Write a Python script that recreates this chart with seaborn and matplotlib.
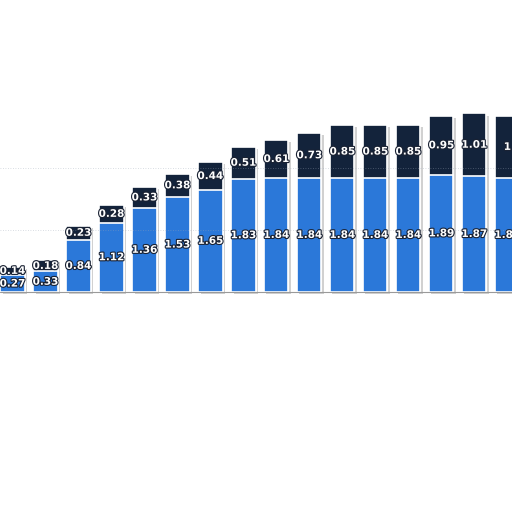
import matplotlib
matplotlib.use("Agg")
import matplotlib.pyplot as plt
import matplotlib.patheffects as pe
import seaborn as sns
import pandas as pd
import numpy as np

categories = [str(i) for i in range(16)]
blue_vals = [0.27, 0.33, 0.84, 1.12, 1.36, 1.53, 1.65, 1.83, 1.84, 1.84, 1.84, 1.84, 1.84, 1.89, 1.87, 1.84]
dark_vals = [0.14, 0.18, 0.23, 0.28, 0.33, 0.38, 0.44, 0.51, 0.61, 0.73, 0.85, 0.85, 0.85, 0.95, 1.01, 1]
blue_labels = ["0.27", "0.33", "0.84", "1.12", "1.36", "1.53", "1.65", "1.83", "1.84", "1.84", "1.84", "1.84", "1.84", "1.89", "1.87", "1.84"]
dark_labels = ["0.14", "0.18", "0.23", "0.28", "0.33", "0.38", "0.44", "0.51", "0.61", "0.73", "0.85", "0.85", "0.85", "0.95", "1.01", "1"]

BLUE = "#2b78d9"
DARK = "#13233b"

df = pd.DataFrame({"cat": categories, "blue": blue_vals, "dark": dark_vals})
df["total"] = df["blue"] + df["dark"]

sns.set_theme(style="white")
fig = plt.figure(figsize=(5.12, 5.12), dpi=100)
ax = fig.add_axes([0, 0, 1, 1])

shadow = [pe.SimplePatchShadow(offset=(1.5, -1.5), shadow_rgbFace="#000000", alpha=0.18), pe.Normal()]

sns.barplot(data=df, x="cat", y="total", color=DARK, saturation=1, width=0.73,
            edgecolor="white", linewidth=1.2, ax=ax, zorder=2)
n_dark = len(ax.patches)
sns.barplot(data=df, x="cat", y="blue", color=BLUE, saturation=1, width=0.73,
            edgecolor="white", linewidth=1.2, ax=ax, zorder=3)
for p in ax.patches[:n_dark]:
    p.set_path_effects(shadow)

for yg in [1, 2]:
    ax.axhline(yg, color="#9aa5b5", lw=0.6, ls=(0, (1, 2)), alpha=0.5, zorder=4)

txt_fx = [pe.withStroke(linewidth=1.6, foreground="#1a2233")]
for i, (b, d) in enumerate(zip(blue_vals, dark_vals)):
    ax.text(i, b / 2, blue_labels[i], ha="center", va="center", color="white",
            fontsize=7.5, fontweight="bold", path_effects=txt_fx, zorder=5)
    ax.text(i, b + d / 2, dark_labels[i], ha="center", va="center", color="white",
            fontsize=7.5, fontweight="bold", path_effects=txt_fx, zorder=5)

ax.axhline(0, color="#9a9a9a", lw=0.8, zorder=4)

ax.set_xlim(-0.38, 15.14)
ax.set_ylim(-3.55, 4.71)
ax.set_axis_off()
fig.savefig("out.png", dpi=100, facecolor="white")
